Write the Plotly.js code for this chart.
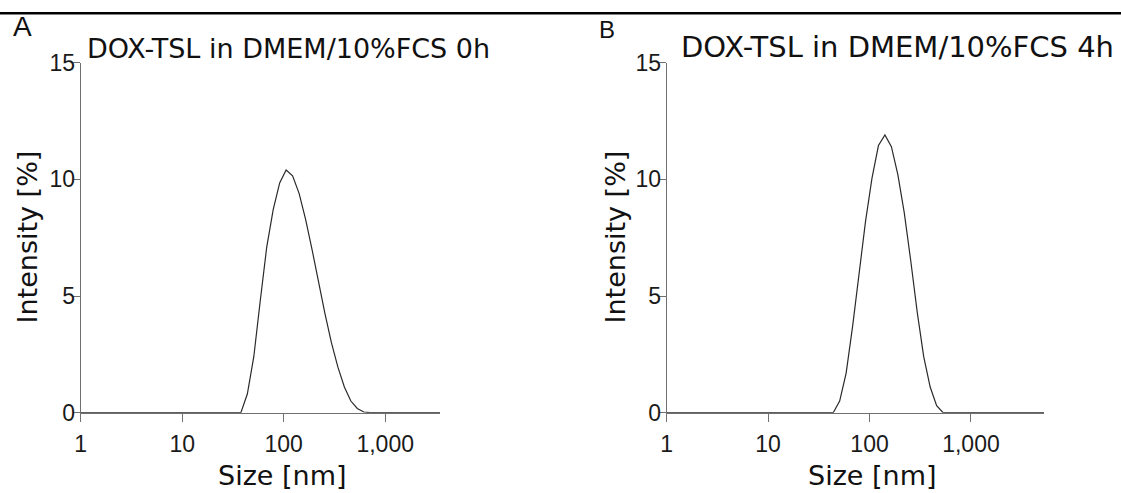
<!DOCTYPE html>
<html>
<head>
<meta charset="utf-8">
<script src="https://cdn.plot.ly/plotly-3.0.1.min.js"></script>
<style>html,body{margin:0;padding:0;background:#fff}#chart{width:1121px;height:493px}</style>
</head>
<body>
<div id="chart"></div>
<script>
// Size bins [nm] (log-spaced DLS bins)
const sizes = [0.4, 0.4632, 0.5365, 0.6213, 0.7195, 0.8332, 0.9649, 1.117, 1.294, 1.499, 1.736, 2.010, 2.328, 2.696, 3.122, 3.615, 4.187, 4.849, 5.615, 6.503, 7.531, 8.721, 10.10, 11.70, 13.54, 15.69, 18.17, 21.04, 24.36, 28.21, 32.67, 37.84, 43.82, 50.75, 58.77, 68.06, 78.82, 91.28, 105.7, 122.4, 141.8, 164.2, 190.1, 220.2, 255.0, 295.3, 342.0, 396.1, 458.7, 531.2, 615.1, 712.4, 825.0, 955.4, 1106, 1281, 1484, 1718, 1990, 2305, 2669, 3091, 3580, 4145, 4801, 5560, 6439, 7456, 8635, 10000];

// Intensity [%] per bin, panel A (0 h) and panel B (4 h)
const intensity0h = [0,0,0,0,0,0,0,0,0,0,0,0,0,0,0,0,0,0,0,0,0,0,0,0,0,0,0,0,0,0,0,0,
  0.8, 2.4, 4.8, 7.1, 8.7, 9.85, 10.4, 10.15, 9.4, 8.3, 7.0, 5.6, 4.25, 3.0, 1.95, 1.1, 0.5, 0.18, 0.03,
  0,0,0,0,0,0,0,0,0,0,0,0,0,0,0,0,0,0,0];
const intensity4h = [0,0,0,0,0,0,0,0,0,0,0,0,0,0,0,0,0,0,0,0,0,0,0,0,0,0,0,0,0,0,0,0,
  0, 0.5, 1.7, 3.7, 6.0, 8.2, 10.05, 11.45, 11.9, 11.4, 10.2, 8.55, 6.5, 4.3, 2.4, 1.1, 0.3, 0,
  0,0,0,0,0,0,0,0,0,0,0,0,0,0,0,0,0,0,0,0,0];

const xTickVals = [1, 10, 100, 1000];
const xTickText = ['1', '10', '100', '1,000'];
const yTickVals = [0, 5, 10, 15];
const panelTitles = ['DOX-TSL in DMEM/10%FCS 0h', 'DOX-TSL in DMEM/10%FCS 4h'];
const panelLetters = ['A', 'B'];
const xTitle = 'Size [nm]';
const yTitle = 'Intensity [%]';

const W = 1121, H = 493;
const px = v => v / W;
const py = v => 1 - v / H;

const lineStyle = {color: '#2a2a2a', width: 1.2};
const traces = [
  {x: sizes, y: intensity0h, type: 'scatter', mode: 'lines', line: lineStyle, xaxis: 'x', yaxis: 'y', hoverinfo: 'x+y'},
  {x: sizes, y: intensity4h, type: 'scatter', mode: 'lines', line: lineStyle, xaxis: 'x2', yaxis: 'y2', hoverinfo: 'x+y'}
];

const axisColor = '#707070';
const tickFont = {family: 'Liberation Sans, Arial, sans-serif', size: 23, color: '#1a1a1a'};
function xax(domain, rmax, anchor) {
  return {
    type: 'log', domain: domain, range: [0, rmax], anchor: anchor,
    tickmode: 'array', tickvals: xTickVals, ticktext: xTickText,
    ticks: 'outside', ticklen: 8, tickwidth: 1, tickcolor: axisColor,
    showline: true, linecolor: axisColor, linewidth: 1,
    showgrid: false, zeroline: false, tickfont: tickFont, ticklabelstandoff: 3
  };
}
function yax(anchor) {
  return {
    domain: [py(412.7), py(62.7)], range: [0, 15], anchor: anchor,
    tickmode: 'array', tickvals: yTickVals,
    ticks: 'outside', ticklen: 7, tickwidth: 1, tickcolor: axisColor,
    showline: true, linecolor: axisColor, linewidth: 1,
    showgrid: false, zeroline: false, tickfont: tickFont, ticklabelstandoff: -7
  };
}

const titleFont = {family: 'DejaVu Sans, Verdana, sans-serif', size: 27, color: '#111'};
const ann = (text, x, y, opts) => Object.assign({text: text, xref: 'paper', yref: 'paper', x: px(x), y: py(y), showarrow: false, font: titleFont, xanchor: 'center', yanchor: 'middle'}, opts || {});
const letterFont = s => ({family: 'Liberation Sans, Arial, sans-serif', size: s, color: '#111'});

const annotations = [
  ann(panelLetters[0], 11, 27, {xanchor: 'left', font: letterFont(28)}),
  ann(panelLetters[1], 597, 30, {xanchor: 'left', font: letterFont(24)}),
  ann(panelTitles[0], 85, 48, {xanchor: 'left'}),
  ann(panelTitles[1], 1116, 46.5, {xanchor: 'right', font: Object.assign({}, titleFont, {size: 29})}),
  ann(xTitle, 282, 475),
  ann(xTitle, 872, 475),
  ann(yTitle, 27, 237.5, {textangle: -90}),
  ann(yTitle, 615, 237.5, {textangle: -90})
];

const layout = {
  width: W, height: H,
  margin: {l: 0, r: 0, t: 0, b: 0},
  paper_bgcolor: '#fff', plot_bgcolor: '#fff',
  showlegend: false,
  xaxis: xax([px(80.7), px(440)], 3.54, 'y'),
  yaxis: yax('x'),
  xaxis2: xax([px(666.7), px(1044)], 3.72, 'y2'),
  yaxis2: yax('x2'),
  annotations: annotations,
  shapes: [{type: 'line', xref: 'paper', yref: 'paper', x0: 0, x1: 1, y0: py(13.3), y1: py(13.3), line: {color: '#000', width: 2.5}}]
};

Plotly.newPlot('chart', traces, layout, {displayModeBar: false, staticPlot: true});
</script>
</body>
</html>
